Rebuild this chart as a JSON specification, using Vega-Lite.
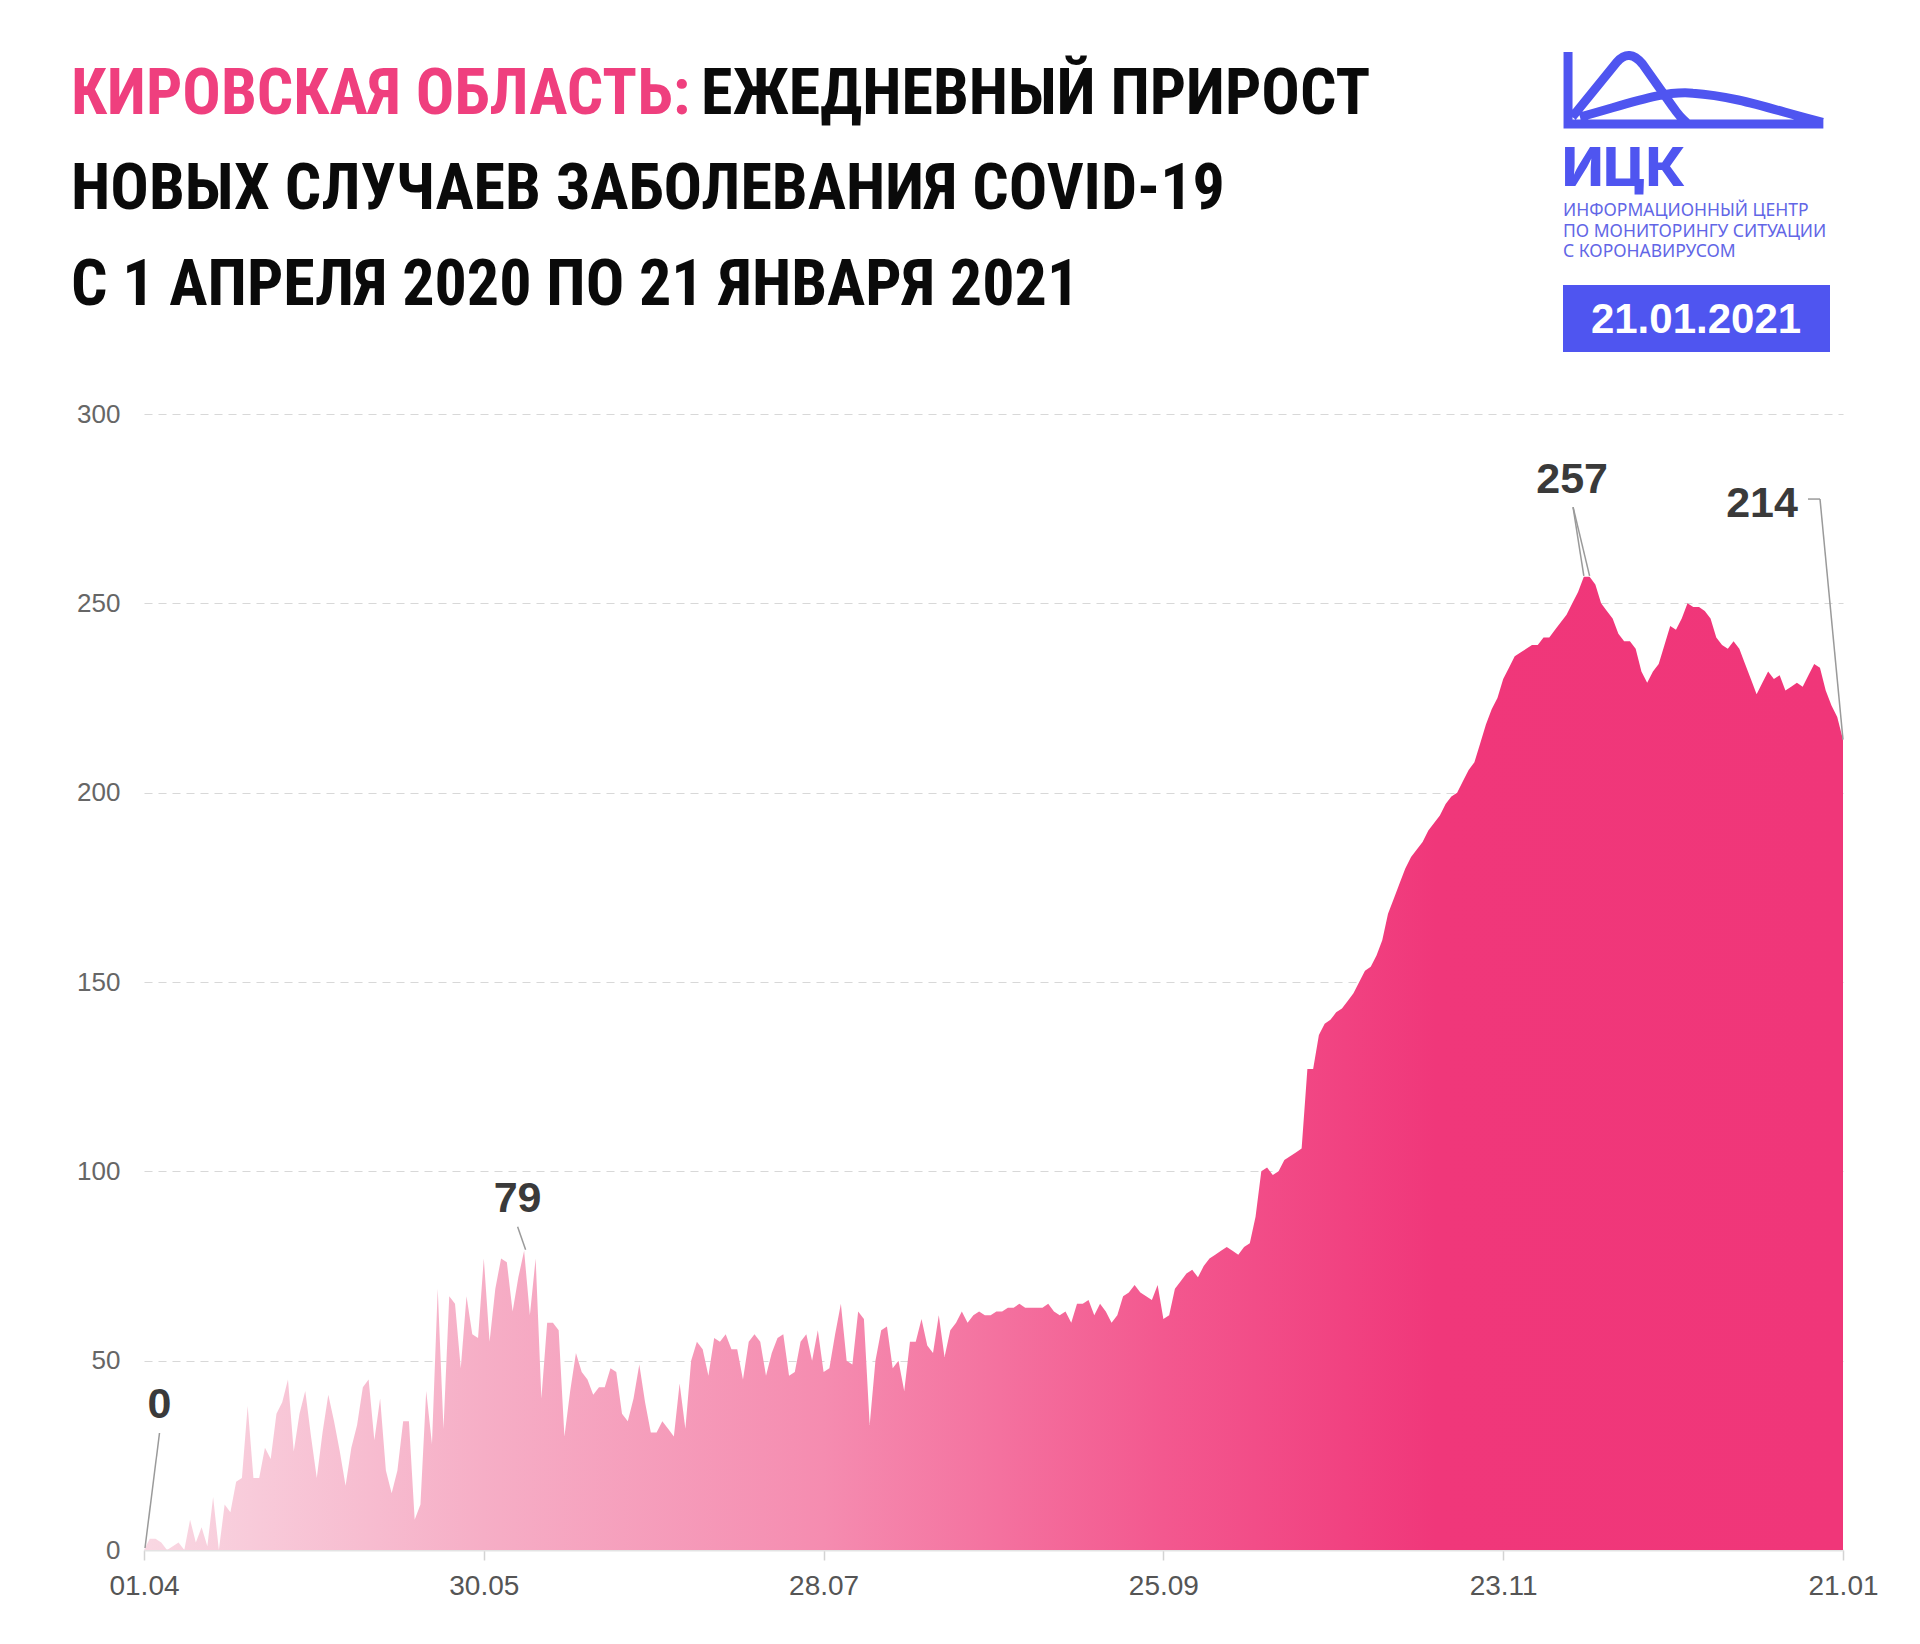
{
  "$schema": "https://vega.github.io/schema/vega-lite/v6.json",
  "width": 1699,
  "height": 1136,
  "autosize": {"type": "none"},
  "padding": {"left": 144, "top": 414, "right": 77, "bottom": 94},
  "background": "#ffffff",
  "config": {"view": {"stroke": null}},
  "datasets": {
    "series": [
      {"date":"2020-04-01","n":0},{"date":"2020-04-02","n":3},{"date":"2020-04-03","n":3},{"date":"2020-04-04","n":2},{"date":"2020-04-05","n":0},
      {"date":"2020-04-06","n":1},{"date":"2020-04-07","n":2},{"date":"2020-04-08","n":0},{"date":"2020-04-09","n":8},{"date":"2020-04-10","n":2},
      {"date":"2020-04-11","n":6},{"date":"2020-04-12","n":1},{"date":"2020-04-13","n":14},{"date":"2020-04-14","n":0},{"date":"2020-04-15","n":12},
      {"date":"2020-04-16","n":10},{"date":"2020-04-17","n":18},{"date":"2020-04-18","n":19},{"date":"2020-04-19","n":38},{"date":"2020-04-20","n":19},
      {"date":"2020-04-21","n":19},{"date":"2020-04-22","n":27},{"date":"2020-04-23","n":24},{"date":"2020-04-24","n":36},{"date":"2020-04-25","n":39},
      {"date":"2020-04-26","n":45},{"date":"2020-04-27","n":26},{"date":"2020-04-28","n":36},{"date":"2020-04-29","n":42},{"date":"2020-04-30","n":30},
      {"date":"2020-05-01","n":19},{"date":"2020-05-02","n":31},{"date":"2020-05-03","n":41},{"date":"2020-05-04","n":34},{"date":"2020-05-05","n":26},
      {"date":"2020-05-06","n":17},{"date":"2020-05-07","n":27},{"date":"2020-05-08","n":33},{"date":"2020-05-09","n":43},{"date":"2020-05-10","n":45},
      {"date":"2020-05-11","n":29},{"date":"2020-05-12","n":40},{"date":"2020-05-13","n":21},{"date":"2020-05-14","n":15},{"date":"2020-05-15","n":21},
      {"date":"2020-05-16","n":34},{"date":"2020-05-17","n":34},{"date":"2020-05-18","n":8},{"date":"2020-05-19","n":12},{"date":"2020-05-20","n":42},
      {"date":"2020-05-21","n":28},{"date":"2020-05-22","n":69},{"date":"2020-05-23","n":32},{"date":"2020-05-24","n":67},{"date":"2020-05-25","n":65},
      {"date":"2020-05-26","n":48},{"date":"2020-05-27","n":67},{"date":"2020-05-28","n":57},{"date":"2020-05-29","n":56},{"date":"2020-05-30","n":77},
      {"date":"2020-05-31","n":55},
      {"date":"2020-06-01","n":69},{"date":"2020-06-02","n":77},{"date":"2020-06-03","n":76},{"date":"2020-06-04","n":63},{"date":"2020-06-05","n":72},
      {"date":"2020-06-06","n":79},{"date":"2020-06-07","n":62},{"date":"2020-06-08","n":77},{"date":"2020-06-09","n":40},{"date":"2020-06-10","n":60},
      {"date":"2020-06-11","n":60},{"date":"2020-06-12","n":58},{"date":"2020-06-13","n":30},{"date":"2020-06-14","n":42},{"date":"2020-06-15","n":52},
      {"date":"2020-06-16","n":47},{"date":"2020-06-17","n":45},{"date":"2020-06-18","n":41},{"date":"2020-06-19","n":43},{"date":"2020-06-20","n":43},
      {"date":"2020-06-21","n":48},{"date":"2020-06-22","n":47},{"date":"2020-06-23","n":36},{"date":"2020-06-24","n":34},{"date":"2020-06-25","n":40},
      {"date":"2020-06-26","n":49},{"date":"2020-06-27","n":39},{"date":"2020-06-28","n":31},{"date":"2020-06-29","n":31},{"date":"2020-06-30","n":34},
      {"date":"2020-07-01","n":32},{"date":"2020-07-02","n":30},{"date":"2020-07-03","n":44},{"date":"2020-07-04","n":32},{"date":"2020-07-05","n":50},
      {"date":"2020-07-06","n":55},{"date":"2020-07-07","n":53},{"date":"2020-07-08","n":46},{"date":"2020-07-09","n":56},{"date":"2020-07-10","n":55},
      {"date":"2020-07-11","n":57},{"date":"2020-07-12","n":53},{"date":"2020-07-13","n":53},{"date":"2020-07-14","n":45},{"date":"2020-07-15","n":55},
      {"date":"2020-07-16","n":57},{"date":"2020-07-17","n":55},{"date":"2020-07-18","n":46},{"date":"2020-07-19","n":52},{"date":"2020-07-20","n":56},
      {"date":"2020-07-21","n":57},{"date":"2020-07-22","n":46},{"date":"2020-07-23","n":47},{"date":"2020-07-24","n":55},{"date":"2020-07-25","n":57},
      {"date":"2020-07-26","n":50},{"date":"2020-07-27","n":58},{"date":"2020-07-28","n":47},{"date":"2020-07-29","n":48},{"date":"2020-07-30","n":57},
      {"date":"2020-07-31","n":65},
      {"date":"2020-08-01","n":50},{"date":"2020-08-02","n":49},{"date":"2020-08-03","n":63},{"date":"2020-08-04","n":61},{"date":"2020-08-05","n":33},
      {"date":"2020-08-06","n":50},{"date":"2020-08-07","n":58},{"date":"2020-08-08","n":59},{"date":"2020-08-09","n":48},{"date":"2020-08-10","n":50},
      {"date":"2020-08-11","n":42},{"date":"2020-08-12","n":55},{"date":"2020-08-13","n":55},{"date":"2020-08-14","n":61},{"date":"2020-08-15","n":54},
      {"date":"2020-08-16","n":52},{"date":"2020-08-17","n":62},{"date":"2020-08-18","n":51},{"date":"2020-08-19","n":58},{"date":"2020-08-20","n":60},
      {"date":"2020-08-21","n":63},{"date":"2020-08-22","n":60},{"date":"2020-08-23","n":62},{"date":"2020-08-24","n":63},{"date":"2020-08-25","n":62},
      {"date":"2020-08-26","n":62},{"date":"2020-08-27","n":63},{"date":"2020-08-28","n":63},{"date":"2020-08-29","n":64},{"date":"2020-08-30","n":64},
      {"date":"2020-08-31","n":65},
      {"date":"2020-09-01","n":64},{"date":"2020-09-02","n":64},{"date":"2020-09-03","n":64},{"date":"2020-09-04","n":64},{"date":"2020-09-05","n":65},
      {"date":"2020-09-06","n":63},{"date":"2020-09-07","n":62},{"date":"2020-09-08","n":63},{"date":"2020-09-09","n":60},{"date":"2020-09-10","n":65},
      {"date":"2020-09-11","n":65},{"date":"2020-09-12","n":66},{"date":"2020-09-13","n":62},{"date":"2020-09-14","n":65},{"date":"2020-09-15","n":63},
      {"date":"2020-09-16","n":60},{"date":"2020-09-17","n":62},{"date":"2020-09-18","n":67},{"date":"2020-09-19","n":68},{"date":"2020-09-20","n":70},
      {"date":"2020-09-21","n":68},{"date":"2020-09-22","n":67},{"date":"2020-09-23","n":66},{"date":"2020-09-24","n":70},{"date":"2020-09-25","n":61},
      {"date":"2020-09-26","n":62},{"date":"2020-09-27","n":69},{"date":"2020-09-28","n":71},{"date":"2020-09-29","n":73},{"date":"2020-09-30","n":74},
      {"date":"2020-10-01","n":72},{"date":"2020-10-02","n":75},{"date":"2020-10-03","n":77},{"date":"2020-10-04","n":78},{"date":"2020-10-05","n":79},
      {"date":"2020-10-06","n":80},{"date":"2020-10-07","n":79},{"date":"2020-10-08","n":78},{"date":"2020-10-09","n":80},{"date":"2020-10-10","n":81},
      {"date":"2020-10-11","n":88},{"date":"2020-10-12","n":100},{"date":"2020-10-13","n":101},{"date":"2020-10-14","n":99},{"date":"2020-10-15","n":100},
      {"date":"2020-10-16","n":103},{"date":"2020-10-17","n":104},{"date":"2020-10-18","n":105},{"date":"2020-10-19","n":106},{"date":"2020-10-20","n":127},
      {"date":"2020-10-21","n":127},{"date":"2020-10-22","n":136},{"date":"2020-10-23","n":139},{"date":"2020-10-24","n":140},{"date":"2020-10-25","n":142},
      {"date":"2020-10-26","n":143},{"date":"2020-10-27","n":145},{"date":"2020-10-28","n":147},{"date":"2020-10-29","n":150},{"date":"2020-10-30","n":153},
      {"date":"2020-10-31","n":154},
      {"date":"2020-11-01","n":157},{"date":"2020-11-02","n":161},{"date":"2020-11-03","n":168},{"date":"2020-11-04","n":172},{"date":"2020-11-05","n":176},
      {"date":"2020-11-06","n":180},{"date":"2020-11-07","n":183},{"date":"2020-11-08","n":185},{"date":"2020-11-09","n":187},{"date":"2020-11-10","n":190},
      {"date":"2020-11-11","n":192},{"date":"2020-11-12","n":194},{"date":"2020-11-13","n":197},{"date":"2020-11-14","n":199},{"date":"2020-11-15","n":200},
      {"date":"2020-11-16","n":203},{"date":"2020-11-17","n":206},{"date":"2020-11-18","n":208},{"date":"2020-11-19","n":213},{"date":"2020-11-20","n":218},
      {"date":"2020-11-21","n":222},{"date":"2020-11-22","n":225},{"date":"2020-11-23","n":230},{"date":"2020-11-24","n":233},{"date":"2020-11-25","n":236},
      {"date":"2020-11-26","n":237},{"date":"2020-11-27","n":238},{"date":"2020-11-28","n":239},{"date":"2020-11-29","n":239},{"date":"2020-11-30","n":241},
      {"date":"2020-12-01","n":241},{"date":"2020-12-02","n":243},{"date":"2020-12-03","n":245},{"date":"2020-12-04","n":247},{"date":"2020-12-05","n":250},
      {"date":"2020-12-06","n":253},{"date":"2020-12-07","n":257},{"date":"2020-12-08","n":257},{"date":"2020-12-09","n":255},{"date":"2020-12-10","n":250},
      {"date":"2020-12-11","n":248},{"date":"2020-12-12","n":246},{"date":"2020-12-13","n":242},{"date":"2020-12-14","n":240},{"date":"2020-12-15","n":240},
      {"date":"2020-12-16","n":238},{"date":"2020-12-17","n":232},{"date":"2020-12-18","n":229},{"date":"2020-12-19","n":232},{"date":"2020-12-20","n":234},
      {"date":"2020-12-21","n":239},{"date":"2020-12-22","n":244},{"date":"2020-12-23","n":243},{"date":"2020-12-24","n":246},{"date":"2020-12-25","n":250},
      {"date":"2020-12-26","n":249},{"date":"2020-12-27","n":249},{"date":"2020-12-28","n":248},{"date":"2020-12-29","n":246},{"date":"2020-12-30","n":241},
      {"date":"2020-12-31","n":239},
      {"date":"2021-01-01","n":238},{"date":"2021-01-02","n":240},{"date":"2021-01-03","n":238},{"date":"2021-01-04","n":234},{"date":"2021-01-05","n":230},
      {"date":"2021-01-06","n":226},{"date":"2021-01-07","n":229},{"date":"2021-01-08","n":232},{"date":"2021-01-09","n":230},{"date":"2021-01-10","n":231},
      {"date":"2021-01-11","n":227},{"date":"2021-01-12","n":228},{"date":"2021-01-13","n":229},{"date":"2021-01-14","n":228},{"date":"2021-01-15","n":231},
      {"date":"2021-01-16","n":234},{"date":"2021-01-17","n":233},{"date":"2021-01-18","n":227},{"date":"2021-01-19","n":223},{"date":"2021-01-20","n":220},
      {"date":"2021-01-21","n":214}
    ],
    "notes": [
      {"date":"2020-04-01","n":0,"k":"a","label":"0"},
      {"date":"2020-06-06","n":79,"k":"b","label":"79"},
      {"date":"2020-12-07","n":257,"k":"c1","label":"257"},
      {"date":"2020-12-08","n":257,"k":"c2","label":"257"},
      {"date":"2021-01-21","n":214,"k":"d","label":"214"}
    ]
  },
  "layer": [
    {
      "data": {"name": "series"},
      "mark": {
        "type": "area",
        "interpolate": "linear",
        "color": {
          "gradient": "linear", "x1": 0, "x2": 1, "y1": 0, "y2": 0,
          "stops": [
            {"offset": 0, "color": "#F9D8E3"},
            {"offset": 0.2, "color": "#F6AEC6"},
            {"offset": 0.4, "color": "#F58CB0"},
            {"offset": 0.6, "color": "#F3588F"},
            {"offset": 0.76, "color": "#F0377A"},
            {"offset": 1, "color": "#F03679"}
          ]
        }
      },
      "encoding": {
        "x": {
          "field": "date", "type": "temporal",
          "scale": {"type": "utc", "domain": [{"year": 2020, "month": 4, "date": 1, "utc": true}, {"year": 2021, "month": 1, "date": 21, "utc": true}], "nice": false},
          "axis": {
            "title": null,
            "values": [
              {"year": 2020, "month": 4, "date": 1, "utc": true},
              {"year": 2020, "month": 5, "date": 30, "utc": true},
              {"year": 2020, "month": 7, "date": 28, "utc": true},
              {"year": 2020, "month": 9, "date": 25, "utc": true},
              {"year": 2020, "month": 11, "date": 23, "utc": true},
              {"year": 2021, "month": 1, "date": 21, "utc": true}
            ],
            "format": "%d.%m",
            "grid": false,
            "domainColor": "#e3e3e3",
            "domainWidth": 2,
            "tickColor": "#d3d3d3",
            "tickWidth": 1.5,
            "tickSize": 10,
            "labelPadding": 12,
            "labelFont": "Liberation Sans",
            "labelFontSize": 28,
            "labelColor": "#555555",
            "labelFlush": false,
            "labelOverlap": false
          }
        },
        "y": {
          "field": "n", "type": "quantitative",
          "scale": {"domain": [0, 300], "nice": false},
          "axis": {
            "title": null,
            "values": [0, 50, 100, 150, 200, 250, 300],
            "grid": true,
            "gridColor": "#d8d8d8",
            "gridDash": [8, 6],
            "gridWidth": 1.2,
            "domain": false,
            "ticks": false,
            "labelPadding": 24,
            "labelFont": "Liberation Sans",
            "labelFontSize": 26,
            "labelColor": "#666666"
          }
        }
      }
    },
    {
      "data": {"name": "notes"},
      "transform": [{"filter": "datum.k == 'a'"}],
      "mark": {"type": "rule", "color": "#9a9a9a", "strokeWidth": 1.5, "xOffset": 1, "yOffset": -2, "x2Offset": 15.5, "y2Offset": -117},
      "encoding": {"x": {"field": "date", "type": "temporal"}, "x2": {"field": "date"}, "y": {"field": "n", "type": "quantitative"}, "y2": {"field": "n"}}
    },
    {
      "data": {"name": "notes"},
      "transform": [{"filter": "datum.k == 'b'"}],
      "mark": {"type": "rule", "color": "#9a9a9a", "strokeWidth": 1.5, "xOffset": 1.5, "yOffset": -1, "x2Offset": -6.5, "y2Offset": -24},
      "encoding": {"x": {"field": "date", "type": "temporal"}, "x2": {"field": "date"}, "y": {"field": "n", "type": "quantitative"}, "y2": {"field": "n"}}
    },
    {
      "data": {"name": "notes"},
      "transform": [{"filter": "datum.k == 'c1'"}],
      "mark": {"type": "rule", "color": "#9a9a9a", "strokeWidth": 1.5, "yOffset": -1, "x2Offset": -10.8, "y2Offset": -69.7},
      "encoding": {"x": {"field": "date", "type": "temporal"}, "x2": {"field": "date"}, "y": {"field": "n", "type": "quantitative"}, "y2": {"field": "n"}}
    },
    {
      "data": {"name": "notes"},
      "transform": [{"filter": "datum.k == 'c2'"}],
      "mark": {"type": "rule", "color": "#9a9a9a", "strokeWidth": 1.5, "yOffset": -1, "x2Offset": -16.5, "y2Offset": -69.7},
      "encoding": {"x": {"field": "date", "type": "temporal"}, "x2": {"field": "date"}, "y": {"field": "n", "type": "quantitative"}, "y2": {"field": "n"}}
    },
    {
      "data": {"name": "notes"},
      "transform": [{"filter": "datum.k == 'd'"}],
      "mark": {"type": "rule", "color": "#9a9a9a", "strokeWidth": 1.5, "x2Offset": -23, "y2Offset": -240.6},
      "encoding": {"x": {"field": "date", "type": "temporal"}, "x2": {"field": "date"}, "y": {"field": "n", "type": "quantitative"}, "y2": {"field": "n"}}
    },
    {
      "data": {"name": "notes"},
      "transform": [{"filter": "datum.k == 'd'"}],
      "mark": {"type": "rule", "color": "#9a9a9a", "strokeWidth": 1.5, "xOffset": -35, "yOffset": -240.6, "x2Offset": -23, "y2Offset": -240.6},
      "encoding": {"x": {"field": "date", "type": "temporal"}, "x2": {"field": "date"}, "y": {"field": "n", "type": "quantitative"}, "y2": {"field": "n"}}
    },
    {
      "data": {"name": "notes"},
      "transform": [{"filter": "datum.k == 'a'"}],
      "mark": {"type": "text", "font": "Liberation Sans", "fontWeight": "bold", "fontSize": 43, "color": "#3a3a3a", "align": "center", "baseline": "alphabetic", "dx": 15.5, "dy": -132},
      "encoding": {"x": {"field": "date", "type": "temporal"}, "y": {"field": "n", "type": "quantitative"}, "text": {"field": "label"}}
    },
    {
      "data": {"name": "notes"},
      "transform": [{"filter": "datum.k == 'b'"}],
      "mark": {"type": "text", "font": "Liberation Sans", "fontWeight": "bold", "fontSize": 43, "color": "#3a3a3a", "align": "center", "baseline": "alphabetic", "dx": -6.5, "dy": -39},
      "encoding": {"x": {"field": "date", "type": "temporal"}, "y": {"field": "n", "type": "quantitative"}, "text": {"field": "label"}}
    },
    {
      "data": {"name": "notes"},
      "transform": [{"filter": "datum.k == 'c2'"}],
      "mark": {"type": "text", "font": "Liberation Sans", "fontWeight": "bold", "fontSize": 43, "color": "#3a3a3a", "align": "center", "baseline": "alphabetic", "dx": -17.5, "dy": -84},
      "encoding": {"x": {"field": "date", "type": "temporal"}, "y": {"field": "n", "type": "quantitative"}, "text": {"field": "label"}}
    },
    {
      "data": {"name": "notes"},
      "transform": [{"filter": "datum.k == 'd'"}],
      "mark": {"type": "text", "font": "Liberation Sans", "fontWeight": "bold", "fontSize": 43, "color": "#3a3a3a", "align": "center", "baseline": "alphabetic", "dx": -81, "dy": -223},
      "encoding": {"x": {"field": "date", "type": "temporal"}, "y": {"field": "n", "type": "quantitative"}, "text": {"field": "label"}}
    },
    {
      "data": {"values": [{}]},
      "mark": {"type": "text", "text": "КИРОВСКАЯ ОБЛАСТЬ:", "font": "Roboto Condensed, DejaVu Sans Condensed, sans-serif", "fontWeight": "bold", "fontSize": 64, "color": "#EF3F7E", "align": "left", "baseline": "alphabetic"},
      "encoding": {"x": {"value": -73}, "y": {"value": -300}}
    },
    {
      "data": {"values": [{}]},
      "mark": {"type": "text", "text": "ЕЖЕДНЕВНЫЙ ПРИРОСТ", "font": "Roboto Condensed, DejaVu Sans Condensed, sans-serif", "fontWeight": "bold", "fontSize": 64, "color": "#0a0a0a", "align": "left", "baseline": "alphabetic"},
      "encoding": {"x": {"value": 557}, "y": {"value": -300}}
    },
    {
      "data": {"values": [{}]},
      "mark": {"type": "text", "text": "НОВЫХ СЛУЧАЕВ ЗАБОЛЕВАНИЯ COVID-19", "font": "Roboto Condensed, DejaVu Sans Condensed, sans-serif", "fontWeight": "bold", "fontSize": 64, "color": "#0a0a0a", "align": "left", "baseline": "alphabetic"},
      "encoding": {"x": {"value": -73}, "y": {"value": -205}}
    },
    {
      "data": {"values": [{}]},
      "mark": {"type": "text", "text": "С 1 АПРЕЛЯ 2020 ПО 21 ЯНВАРЯ 2021", "font": "Roboto Condensed, DejaVu Sans Condensed, sans-serif", "fontWeight": "bold", "fontSize": 64, "color": "#0a0a0a", "align": "left", "baseline": "alphabetic"},
      "encoding": {"x": {"value": -73}, "y": {"value": -109}}
    },
    {
      "data": {"values": [{}]},
      "mark": {
        "type": "point",
        "shape": "M-0.962 -0.29 L-0.962 0.253 L0.965 0.253 M-0.93 0.2 L-0.592 -0.215 Q-0.5 -0.32 -0.4 -0.2 L-0.17 0.125 Q-0.12 0.2 -0.064 0.245 M-0.872 0.2 C-0.5 0.1 -0.25 0.0 -0.02 0.02 C0.3 0.04 0.6 0.15 0.96 0.24",
        "size": 70225,
        "filled": false,
        "stroke": "#4F55F0",
        "strokeWidth": 9,
        "opacity": 1
      },
      "encoding": {"x": {"value": 1551.5}, "y": {"value": -323.5}}
    },
    {
      "data": {"values": [{}]},
      "mark": {"type": "text", "text": "ИЦК", "font": "Inter", "fontWeight": 800, "fontSize": 54, "color": "#4F55F0", "align": "left", "baseline": "alphabetic"},
      "encoding": {"x": {"value": 1418}, "y": {"value": -228}}
    },
    {
      "data": {"values": [{}]},
      "mark": {"type": "text", "text": "ИНФОРМАЦИОННЫЙ ЦЕНТР", "font": "Noto Sans", "fontSize": 17.5, "color": "#6266E6", "align": "left", "baseline": "alphabetic"},
      "encoding": {"x": {"value": 1419}, "y": {"value": -198}}
    },
    {
      "data": {"values": [{}]},
      "mark": {"type": "text", "text": "ПО МОНИТОРИНГУ СИТУАЦИИ", "font": "Noto Sans", "fontSize": 17.5, "color": "#6266E6", "align": "left", "baseline": "alphabetic"},
      "encoding": {"x": {"value": 1419}, "y": {"value": -177}}
    },
    {
      "data": {"values": [{}]},
      "mark": {"type": "text", "text": "С КОРОНАВИРУСОМ", "font": "Noto Sans", "fontSize": 17.5, "color": "#6266E6", "align": "left", "baseline": "alphabetic"},
      "encoding": {"x": {"value": 1419}, "y": {"value": -157}}
    },
    {
      "data": {"values": [{}]},
      "mark": {"type": "rect", "color": "#4F55F0"},
      "encoding": {"x": {"value": 1419}, "x2": {"value": 1686}, "y": {"value": -129}, "y2": {"value": -62}}
    },
    {
      "data": {"values": [{}]},
      "mark": {"type": "text", "text": "21.01.2021", "font": "Liberation Sans", "fontWeight": "bold", "fontSize": 42, "color": "#ffffff", "align": "center", "baseline": "alphabetic"},
      "encoding": {"x": {"value": 1552}, "y": {"value": -81}}
    }
  ]
}
